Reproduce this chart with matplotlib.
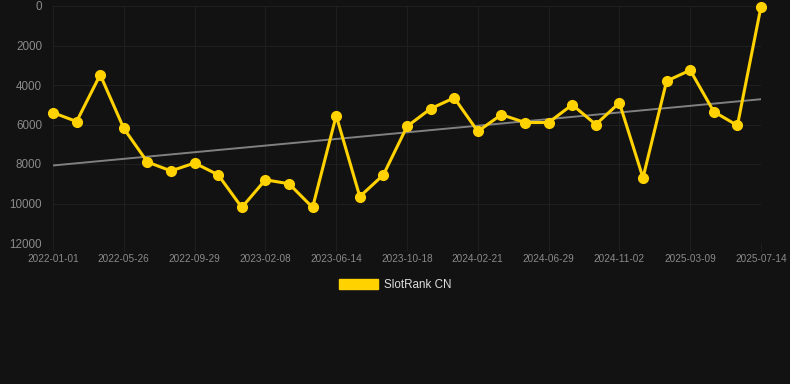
import numpy as np
import matplotlib
matplotlib.use("Agg")
import matplotlib.pyplot as plt
from matplotlib.patches import Patch

# rank values (lower = better, axis reversed)
ranks = [5400, 5850, 3480, 6200, 7900, 8350, 7950, 8550, 10200, 8800,
         9000, 10200, 5550, 9650, 8550, 6100, 5200, 4650, 6350, 5500,
         5900, 5900, 5000, 6000, 4900, 8700, 3800, 3250, 5350, 6050, 30]

# only every third point carries a date label
tick_labels = ["2022-01-01", "2022-05-26", "2022-09-29", "2023-02-08",
               "2023-06-14", "2023-10-18", "2024-02-21", "2024-06-29",
               "2024-11-02", "2025-03-09", "2025-07-14"]

series_name = "SlotRank CN"

bg = "#121212"
gold = "#FFD200"

plt.rcParams['font.family'] = ['Liberation Sans', 'DejaVu Sans']

fig = plt.figure(figsize=(7.9, 3.84), dpi=100, facecolor=bg)
ax = fig.add_axes([53/790, 1 - 243/384, (761 - 53)/790, (243 - 6)/384])
ax.set_facecolor(bg)

x = np.arange(len(ranks))
coef = np.polyfit(x, ranks, 1)
ax.plot(x, np.polyval(coef, x), color="#808080", linewidth=1.4, zorder=2)
ax.plot(x, ranks, color=gold, linewidth=2.2, marker="o", markersize=7,
        zorder=3, clip_on=False)

ax.set_ylim(12000, 0)
ax.set_yticks(np.arange(0, 12001, 2000))
ax.set_xlim(0, len(ranks) - 1)
ax.set_xticks(np.arange(0, len(ranks), 3))
ax.set_xticklabels(tick_labels)

ax.grid(True, color="#1f1f1f", linewidth=0.8)
for s in ax.spines.values():
    s.set_visible(False)
ax.tick_params(axis="y", colors="#1f1f1f", labelcolor="#8a8a8a",
               labelsize=8.4, length=0, pad=8)
ax.tick_params(axis="x", colors="#1f1f1f", labelcolor="#8a8a8a",
               labelsize=7.2, length=6, pad=2)

leg = fig.legend(handles=[Patch(facecolor=gold, edgecolor=gold, label=series_name)],
                 loc="center", bbox_to_anchor=(0.5, 1 - 285/384), frameon=False,
                 handlelength=3.4, handleheight=1.0, handletextpad=0.5,
                 fontsize=8.4)
for t in leg.get_texts():
    t.set_color("#dddddd")

fig.savefig("out.png", dpi=100, facecolor=bg)
